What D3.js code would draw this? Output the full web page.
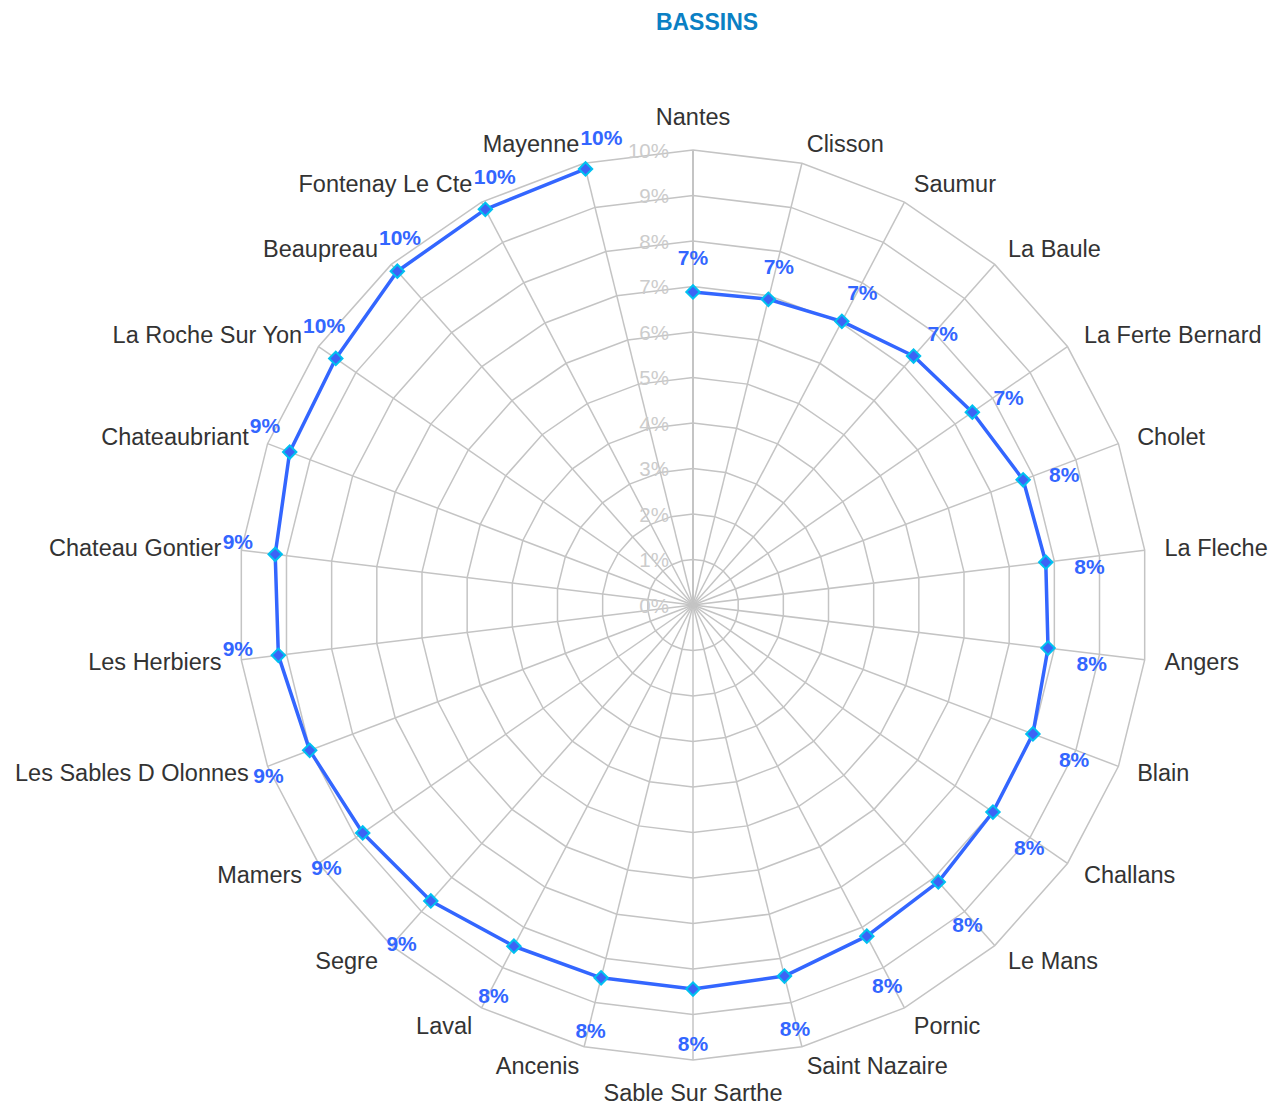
<!DOCTYPE html>
<html>
<head>
<meta charset="utf-8">
<script src="https://cdn.jsdelivr.net/npm/d3@7/dist/d3.min.js"></script>
<style>
  body { margin: 0; background: #fff; }
  text { font-family: Arial, "Liberation Sans", sans-serif; }
</style>
</head>
<body>
<svg id="chart" width="1270" height="1104"></svg>
<script>
// Categories, clockwise from the top.
var categories = ["Nantes", "Clisson", "Saumur", "La Baule", "La Ferte Bernard", "Cholet",
    "La Fleche", "Angers", "Blain", "Challans", "Le Mans", "Pornic", "Saint Nazaire",
    "Sable Sur Sarthe", "Ancenis", "Laval", "Segre", "Mamers", "Les Sables D Olonnes",
    "Les Herbiers", "Chateau Gontier", "Chateaubriant", "La Roche Sur Yon", "Beaupreau",
    "Fontenay Le Cte", "Mayenne"];

// Share per bassin, in %.
var values = [6.88, 6.92, 7.04, 7.31, 7.46, 7.76, 7.81, 7.86, 7.99, 8.01, 8.13, 8.22, 8.40,
    8.44, 8.44, 8.47, 8.69, 8.82, 9.01, 9.18, 9.25, 9.48, 9.54, 9.80, 9.82, 9.87];

// Radial axis ticks.
var ticks = [0, 1, 2, 3, 4, 5, 6, 7, 8, 9, 10];

var title = "BASSINS";

var svg = d3.select("#chart");
var cx = 693, cy = 605, R = 455;
var n = categories.length;

var r = d3.scaleLinear().domain([0, 10]).range([0, R]);

//Angle of the i-th spoke, clockwise from 12 o'clock.
function angle(i) { return i * 2 * Math.PI / n; }
function px(i, rad) { return cx + rad * Math.sin(angle(i)); }
function py(i, rad) { return cy - rad * Math.cos(angle(i)); }

var grid = svg.append("g");

//Rings, one per tick.
grid.selectAll(".ring")
    .data(ticks.filter(function(t) { return t > 0; }))
    .enter().append("polygon")
    .attr("points", function(t) {
        return d3.range(n).map(function(i) { return px(i, r(t)) + "," + py(i, r(t)); }).join(" ");
    })
    .attr("fill", "none")
    .attr("stroke", "#c4c4c4")
    .attr("stroke-width", 1.5);

//Spokes.
grid.selectAll(".spoke")
    .data(d3.range(n))
    .enter().append("line")
    .attr("x1", cx).attr("y1", cy)
    .attr("x2", function(i) { return px(i, R); })
    .attr("y2", function(i) { return py(i, R); })
    .attr("stroke", "#c4c4c4")
    .attr("stroke-width", function(i) { return i === 0 ? 2 : 1.5; });

//Tick labels, left of the first spoke.
svg.append("g").selectAll("text")
    .data(ticks)
    .enter().append("text")
    .attr("x", cx - 24)
    .attr("y", function(t) { return cy - r(t); })
    .attr("text-anchor", "end")
    .attr("dominant-baseline", "central")
    .attr("font-size", 20.5)
    .attr("fill", "#cccccc")
    .text(function(t) { return t + "%"; });

//Series line (not closed).
var line = d3.line()
    .x(function(d, i) { return px(i, r(d)); })
    .y(function(d, i) { return py(i, r(d)); });

svg.append("path")
    .datum(values)
    .attr("d", line)
    .attr("fill", "none")
    .attr("stroke", "#3366ff")
    .attr("stroke-width", 3.5)
    .attr("stroke-linejoin", "round");

//Diamond markers.
var diamond = d3.symbol().type(d3.symbolSquare).size(90);
svg.append("g").selectAll("path")
    .data(values)
    .enter().append("path")
    .attr("d", diamond)
    .attr("transform", function(d, i) {
        return "translate(" + px(i, r(d)) + "," + py(i, r(d)) + ") rotate(45)";
    })
    .attr("fill", "#3d63f5")
    .attr("stroke", "#00c0f0")
    .attr("stroke-width", 2);

//Category labels.
var catLabels = svg.append("g").selectAll("text")
    .data(categories)
    .enter().append("text")
    .attr("x", function(d, i) { return px(i, R + 20); })
    .attr("y", function(d, i) {
        var s = Math.sin(angle(i)), c = Math.cos(angle(i));
        return py(i, R + 20) + (Math.abs(s) < 0.01 ? -c * 13 : 0);
    })
    .attr("text-anchor", function(d, i) {
        var s = Math.sin(angle(i));
        if (Math.abs(s) < 0.01) return "middle";
        return s > 0 ? "start" : "end";
    })
    .attr("dominant-baseline", "central")
    .attr("font-size", 23.5)
    .attr("fill", "#333333")
    .text(function(d) { return d; });

var catBoxes = [];
catLabels.each(function() { catBoxes.push(this.getBBox()); });

function hits(b) {
    return catBoxes.some(function(c) {
        return b.x < c.x + c.width && b.x + b.width > c.x &&
            b.y + 4 < c.y + c.height - 4 && b.y + b.height - 4 > c.y + 4;
    });
}

//Value labels, pushed outwards; turned clockwise when they would sit on a category label.
var dist = 44, turnStep = 5 * Math.PI / 180;
svg.append("g").selectAll("text")
    .data(values)
    .enter().append("text")
    .attr("text-anchor", "middle")
    .attr("dominant-baseline", "central")
    .attr("font-size", 21)
    .attr("font-weight", "bold")
    .attr("fill", "#3366ff")
    .text(function(d) { return Math.round(d) + "%"; })
    .each(function(d, i) {
        var el = d3.select(this);
        var x0 = px(i, r(d)), y0 = py(i, r(d));
        function place(k) {
            var a = angle(i) + k * turnStep;
            el.attr("x", x0 + dist * Math.sin(a)).attr("y", y0 - dist * Math.cos(a) + 10);
        }
        for (var k = 0; k <= 12; k++) {
            place(k);
            if (!hits(this.getBBox())) return;
        }
        place(0);
    });

//Title.
svg.append("text")
    .attr("x", 707)
    .attr("y", 30)
    .attr("text-anchor", "middle")
    .attr("font-size", 23)
    .attr("font-weight", "bold")
    .attr("fill", "#0a80c4")
    .text(title);
</script>
</body>
</html>
